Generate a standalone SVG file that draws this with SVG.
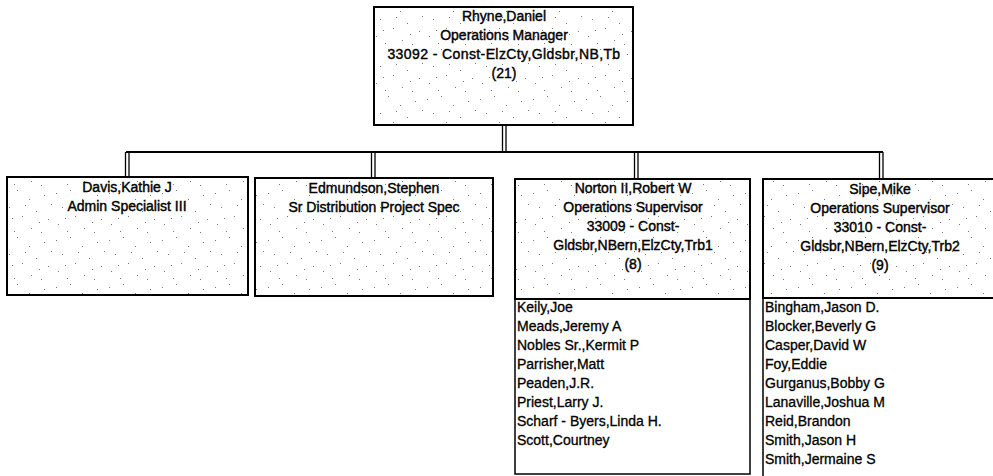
<svg xmlns="http://www.w3.org/2000/svg" width="993" height="476" viewBox="0 0 993 476">
<defs>
<pattern id="speck" width="53" height="47" patternUnits="userSpaceOnUse">
<rect width="53" height="47" fill="#fff"/>
<g fill="#777">
<rect x="3" y="5" width="1" height="1"/><rect x="17" y="2" width="1" height="1"/><rect x="29" y="11" width="1" height="1"/>
<rect x="44" y="7" width="1" height="1"/><rect x="9" y="19" width="1" height="1"/><rect x="36" y="23" width="1" height="1"/>
<rect x="22" y="28" width="1" height="1"/><rect x="48" y="31" width="1" height="1"/><rect x="5" y="36" width="1" height="1"/>
<rect x="31" y="40" width="1" height="1"/><rect x="14" y="43" width="1" height="1"/><rect x="41" y="44" width="1" height="1"/>
<rect x="25" y="17" width="1" height="1"/><rect x="51" y="16" width="1" height="1"/><rect x="12" y="30" width="1" height="1"/>
<rect x="39" y="34" width="1" height="1"/>
</g>
</pattern>
</defs>
<style>
.box{fill:url(#speck);stroke:#000;stroke-width:2}
.list{fill:#fff;stroke:#000;stroke-width:1.5}
.t{font-family:"Liberation Sans",Arial,sans-serif;font-size:14px;fill:#000;text-anchor:middle;stroke:#000;stroke-width:0.4}
.l{font-family:"Liberation Sans",Arial,sans-serif;font-size:14px;fill:#000;stroke:#000;stroke-width:0.3}
.c{fill:none;stroke:#000;stroke-width:1.3}
.h{fill:none;stroke:#000;stroke-width:2}
</style>
<rect width="993" height="476" fill="#fff"/>
<g id="connectors">
<path class="c" d="M502.5,125V152M506,125V152"/>
<path class="h" d="M126,152H883"/>
<path class="c" d="M125.5,152V177M129,152V177"/>
<path class="c" d="M371.5,152V178M375,152V178"/>
<path class="c" d="M634.5,152V179M638,152V179"/>
<path class="c" d="M879.5,152V179M883,152V179"/>
</g>
<g id="rhyne">
<rect class="box" x="374" y="7" width="259" height="118"/>
<text class="t" x="504" y="21">Rhyne,Daniel</text>
<text class="t" x="504" y="40">Operations Manager</text>
<text class="t" x="504" y="59" letter-spacing="0.4">33092 - Const-ElzCty,Gldsbr,NB,Tb</text>
<text class="t" x="504" y="78">(21)</text>
</g>
<g id="davis">
<rect class="box" x="7" y="177" width="241" height="118"/>
<text class="t" x="127" y="192">Davis,Kathie J</text>
<text class="t" x="127" y="211">Admin Specialist III</text>
</g>
<g id="edmundson">
<rect class="box" x="255" y="178" width="238" height="118"/>
<text class="t" x="374" y="193">Edmundson,Stephen</text>
<text class="t" x="374" y="212">Sr Distribution Project Spec</text>
</g>
<g id="norton">
<rect class="list" x="515" y="299" width="235" height="175"/>
<rect class="box" x="515" y="179" width="235" height="120"/>
<text class="t" x="633" y="193">Norton II,Robert W</text>
<text class="t" x="633" y="212">Operations Supervisor</text>
<text class="t" x="633" y="231">33009 - Const-</text>
<text class="t" x="633" y="250">Gldsbr,NBern,ElzCty,Trb1</text>
<text class="t" x="633" y="269">(8)</text>
<text class="l" x="517" y="312">Keily,Joe</text>
<text class="l" x="517" y="331">Meads,Jeremy A</text>
<text class="l" x="517" y="350">Nobles Sr.,Kermit P</text>
<text class="l" x="517" y="369">Parrisher,Matt</text>
<text class="l" x="517" y="388">Peaden,J.R.</text>
<text class="l" x="517" y="407">Priest,Larry J.</text>
<text class="l" x="517" y="426">Scharf - Byers,Linda H.</text>
<text class="l" x="517" y="445">Scott,Courtney</text>
</g>
<g id="sipe">
<rect class="list" x="763" y="298" width="240" height="190"/>
<rect class="box" x="763" y="179" width="240" height="119"/>
<text class="t" x="880" y="194">Sipe,Mike</text>
<text class="t" x="880" y="213">Operations Supervisor</text>
<text class="t" x="880" y="232">33010 - Const-</text>
<text class="t" x="880" y="251">Gldsbr,NBern,ElzCty,Trb2</text>
<text class="t" x="880" y="270">(9)</text>
<text class="l" x="765" y="312">Bingham,Jason D.</text>
<text class="l" x="765" y="331">Blocker,Beverly G</text>
<text class="l" x="765" y="350">Casper,David W</text>
<text class="l" x="765" y="369">Foy,Eddie</text>
<text class="l" x="765" y="388">Gurganus,Bobby G</text>
<text class="l" x="765" y="407">Lanaville,Joshua M</text>
<text class="l" x="765" y="426">Reid,Brandon</text>
<text class="l" x="765" y="445">Smith,Jason H</text>
<text class="l" x="765" y="464">Smith,Jermaine S</text>
</g>
</svg>
